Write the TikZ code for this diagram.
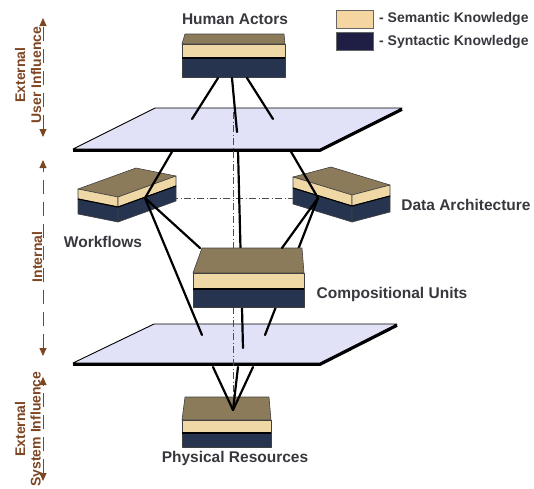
\documentclass[tikz,border=0pt]{standalone}
\usepackage{fontspec}
\setmainfont{Liberation Sans}
\usetikzlibrary{arrows.meta}
\definecolor{topc}{RGB}{140,123,90}
\definecolor{beigec}{RGB}{239,216,165}
\definecolor{navyc}{RGB}{38,52,79}
\definecolor{legbeige}{RGB}{245,213,160}
\definecolor{legnavy}{RGB}{31,31,69}
\definecolor{planec}{RGB}{225,225,248}
\definecolor{sidebrown}{RGB}{125,70,35}
\definecolor{txtgray}{RGB}{55,55,62}
\begin{document}
\begin{tikzpicture}[x=1pt,y=-1pt,
  topface/.style={fill=topc,draw=black!75,line width=0.6pt,line join=round},
  beigeface/.style={fill=beigec,draw=black!75,line width=0.6pt,line join=round},
  navyface/.style={fill=navyc,draw=black!75,line width=0.6pt,line join=round},
  seam/.style={draw=black,line width=1.1pt},
  plane/.style={fill=planec,draw=black,line width=0.9pt,line join=round},
  planerim/.style={draw=black,line width=2.8pt,line join=round},
  link/.style={draw=black,line width=2.2pt,line cap=round},
  axisline/.style={draw=black!70,line width=0.6pt,dash pattern=on 7pt off 2.5pt on 1pt off 2.5pt},
  lbl/.style={text=txtgray,font=\fontsize{15.5}{18}\selectfont\bfseries,inner sep=0pt},
  legtxt/.style={text=txtgray,font=\fontsize{14}{16}\selectfont\bfseries,inner sep=0pt,anchor=west},
  sidetxt/.style={text=sidebrown,font=\fontsize{14}{16}\selectfont\bfseries,inner sep=0pt,rotate=90},
  sidearrow/.style={draw=sidebrown,line width=1pt,dash pattern=on 14pt off 8pt,
    {Triangle[width=7pt,length=8pt]}-{Triangle[width=7pt,length=8pt]}}
]
\useasboundingbox (0,0) rectangle (534,488);

% ---------- key points ----------
\coordinate (up1) at (155,108); \coordinate (up2) at (402,108);
\coordinate (up3) at (320,149); \coordinate (up4) at (73,149);
\coordinate (lp1) at (154,324); \coordinate (lp2) at (397,324);
\coordinate (lp3) at (320,363); \coordinate (lp4) at (73,363);
\coordinate (wfp) at (145,198);  % contact point on Workflows
\coordinate (dap) at (318,198);  % contact point on Data Architecture
\coordinate (prp) at (233,410);  % contact point on Physical Resources

% ---------- planes ----------
\path[plane] (up1) -- (up2) -- (up3) -- (up4) -- cycle;
\draw[planerim] ([yshift=-1.5pt]up4) -- ([yshift=-1.5pt]up3) -- ([yshift=-1.5pt]up2);
\path[plane] (lp1) -- (lp2) -- (lp3) -- (lp4) -- cycle;
\draw[planerim] ([yshift=-1.5pt]lp4) -- ([yshift=-1.5pt]lp3) -- ([yshift=-1.5pt]lp2);

% ---------- centre axes ----------
\coordinate (vaxT) at (233,112); \coordinate (vaxB) at (233,408);
\draw[axisline] (vaxT) -- (vaxB);
\draw[axisline] (wfp) -- (dap);

% ---------- Workflows slab ----------
\filldraw[topface] (78,189) -- (136,168) -- (176,176) -- (118,197) -- cycle;
\filldraw[beigeface] (78,189) -- (118,197) -- (118,207) -- (78,199) -- cycle;
\filldraw[beigeface] (118,197) -- (176,176) -- (176,186) -- (118,207) -- cycle;
\filldraw[navyface] (78,199) -- (118,207) -- (118,222) -- (78,214) -- cycle;
\filldraw[navyface] (118,207) -- (176,186) -- (176,201) -- (118,222) -- cycle;
\draw[seam] (78,199) -- (118,207) -- (176,186);

% ---------- Data Architecture slab ----------
\filldraw[topface] (293,177) -- (331,167) -- (390,185) -- (352,195) -- cycle;
\filldraw[beigeface] (293,177) -- (352,195) -- (352,206) -- (293,188) -- cycle;
\filldraw[beigeface] (352,195) -- (390,185) -- (390,196) -- (352,206) -- cycle;
\filldraw[navyface] (293,188) -- (352,206) -- (352,222) -- (293,204) -- cycle;
\filldraw[navyface] (352,206) -- (390,196) -- (390,212) -- (352,222) -- cycle;
\draw[seam] (293,188) -- (352,206) -- (390,196);

% ---------- links hidden behind Compositional Units ----------
\coordinate (um) at (238,150); \coordinate (lm) at (243,348);
\coordinate (lr) at (265,335);
\draw[link] (um) -- (lm);
\draw[link] (dap) -- (lr);

% ---------- Compositional Units slab ----------
\filldraw[topface] (202,248) -- (302,248) -- (304,273) -- (193,273) -- cycle;
\filldraw[beigeface] (193,273) rectangle (304,289);
\filldraw[navyface] (193,289) rectangle (304,307);
\draw[seam] (193,289) -- (304,289);

% ---------- Human Actors slab ----------
\filldraw[topface] (185,34) -- (284,34) -- (285,44) -- (182,44) -- cycle;
\filldraw[beigeface] (182,44) rectangle (285,58);
\filldraw[navyface] (182,58) rectangle (285,77);
\draw[seam] (182,58) -- (285,58);

% ---------- Physical Resources slab ----------
\filldraw[topface] (185,397) -- (269,397) -- (271,420) -- (182,420) -- cycle;
\filldraw[beigeface] (182,420) rectangle (271,433);
\filldraw[navyface] (182,433) rectangle (271,447);
\draw[seam] (182,433) -- (271,433);

% ---------- visible links ----------
\coordinate (ha1) at (218,78); \coordinate (ha2) at (232,78); \coordinate (ha3) at (247,78);
\coordinate (hp1) at (192,119); \coordinate (hp2) at (237,132); \coordinate (hp3) at (273,119);
\draw[link] (ha1) -- (hp1);
\draw[link] (ha2) -- (hp2);
\draw[link] (ha3) -- (hp3);
\coordinate (ul) at (173,150); \coordinate (ur) at (290,150);
\draw[link] (ul) -- (wfp);
\draw[link] (ur) -- (dap);
\coordinate (cuL) at (200,248); \coordinate (cuR) at (282,248);
\coordinate (ll) at (202,335);
\draw[link] (wfp) -- (cuL);
\draw[link] (wfp) -- (ll);
\draw[link] (dap) -- (cuR);
\coordinate (pl1) at (213,367); \coordinate (pl2) at (238,367); \coordinate (pl3) at (253,367);
\draw[link] (pl1) -- (prp);
\draw[link] (pl2) -- (prp);
\draw[link] (pl3) -- (prp);

% ---------- labels ----------
\node[lbl] (human) at (235,19) {Human Actors};
\node[lbl] (dataarch) at (466,205) {Data Architecture};
\node[lbl] (workflows) at (103,242) {Workflows};
\node[lbl] (compunits) at (392,294) {Compositional Units};
\node[lbl] (physres) at (235,458) {Physical Resources};

% ---------- legend ----------
\filldraw[fill=legbeige,draw=black!60,line width=0.6pt] (336,10) rectangle (373,28);
\filldraw[fill=legnavy,draw=black!60,line width=0.6pt] (336,32) rectangle (373,50);
\node[legtxt] (semk) at (379,19) {- Semantic Knowledge};
\node[legtxt] (synk) at (379,42) {- Syntactic Knowledge};

% ---------- influence scale ----------
\coordinate (s1t) at (43,18);  \coordinate (s1b) at (43,137);
\coordinate (s2t) at (43,160); \coordinate (s2b) at (43,356);
\coordinate (s3t) at (43,377); \coordinate (s3b) at (43,481);
\draw[sidearrow] (s1b) -- (s1t);
\draw[sidearrow] (s2b) -- (s2t);
\draw[sidearrow] (s3b) -- (s3t);
\node[sidetxt] (ext1) at (20,75) {External};
\node[sidetxt] (usr) at (36,75) {User Influence};
\node[sidetxt] (intl) at (37,257) {Internal};
\node[sidetxt] (ext2) at (20,429) {External};
\node[sidetxt] (sys) at (37,429) {System Influence};
\end{tikzpicture}
\end{document}
